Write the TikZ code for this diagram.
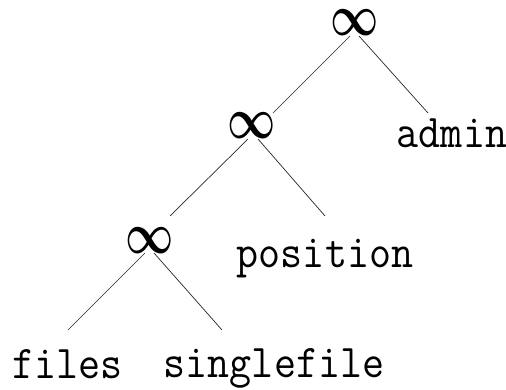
\documentclass[tikz,border=0pt]{standalone}
\usepackage{graphicx}
\usepackage{amsmath}
\usepackage{bm}
\begin{document}
\begin{tikzpicture}[x=1pt,y=-1pt,
  inf/.style={inner sep=0pt},
  lbl/.style={inner sep=0pt,anchor=base,font=\fontsize{47}{50}\selectfont\ttfamily},
  edge/.style={line width=0.7pt,draw=black!85}]
\useasboundingbox (0,0) rectangle (506,390);
\newcommand\myinf{\scalebox{4.2}[5.8]{$\bm{\infty}$}}
\node[inf] (r) at (355,23) {\myinf};
\node[inf] (n2) at (252,126) {\myinf};
\node[inf] (n3) at (150,241) {\myinf};
\node[lbl] (admin) at (452,148) {\scalebox{0.91}[1]{admin}};
\node[lbl] (pos) at (325,267) {\scalebox{0.91}[1]{position}};
\node[lbl] (files) at (67.5,378) {\scalebox{0.91}[1]{files}};
\node[lbl] (single) at (274,377) {\scalebox{0.91}[1]{singlefile}};
\draw[edge] ([shift={(-5,13)}]r.center) -- ([shift={(21,-13)}]n2.center);
\draw[edge] ([shift={(4,13)}]r.center) -- ([shift={(-24,-35)}]admin.base);
\draw[edge] ([shift={(-4,13)}]n2.center) -- ([shift={(20,-25)}]n3.center);
\draw[edge] ([shift={(6,13)}]n2.center) -- ([shift={(0,-51)}]pos.base);
\draw[edge] ([shift={(-5,12)}]n3.center) -- ([shift={(0.5,-48)}]files.base);
\draw[edge] ([shift={(4,12)}]n3.center) -- ([shift={(-52,-47)}]single.base);
\end{tikzpicture}
\end{document}
